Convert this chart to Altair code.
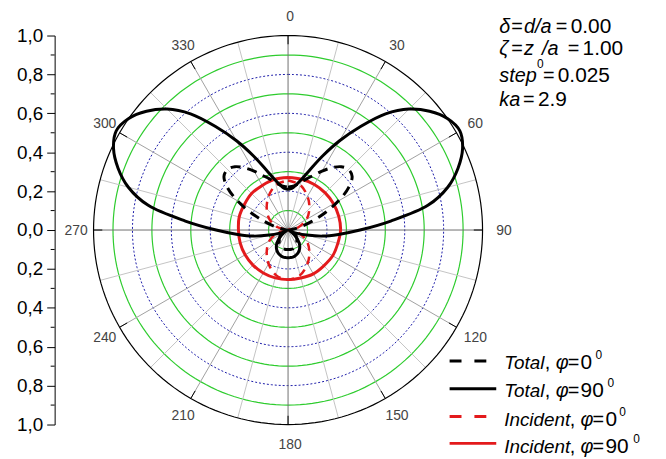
import altair as alt
import pandas as pd

# ---------------- data ----------------
# angle in degrees, clockwise from the top (0 = up, 90 = right)
ang5 = list(range(0, 361, 5))
total_90 = [0.21, 0.215, 0.235, 0.27, 0.33, 0.42, 0.53, 0.65, 0.78, 0.88,
            0.95, 1.00, 1.02, 0.99, 0.93, 0.85, 0.73, 0.53, 0.37, 0.26,
            0.18, 0.10, 0.05, 0.02, 0.01, 0.03, 0.05, 0.07, 0.09, 0.105,
            0.117, 0.126, 0.133, 0.138, 0.141, 0.142, 0.143, 0.142, 0.141, 0.138,
            0.133, 0.126, 0.117, 0.105, 0.09, 0.07, 0.05, 0.03, 0.01, 0.02,
            0.05, 0.10, 0.18, 0.26, 0.37, 0.53, 0.73, 0.85, 0.93, 0.99,
            1.02, 1.00, 0.95, 0.88, 0.78, 0.65, 0.53, 0.42, 0.33, 0.27,
            0.235, 0.215, 0.21]
total_0 = [0.22, 0.225, 0.235, 0.255, 0.28, 0.31, 0.35, 0.39, 0.425, 0.44,
           0.43, 0.38, 0.30, 0.21, 0.13, 0.07, 0.03, 0.01, 0.0, 0.01,
           0.015, 0.02, 0.03, 0.035, 0.04, 0.05, 0.055, 0.065, 0.07, 0.08,
           0.085, 0.09, 0.095, 0.10, 0.10, 0.10, 0.10, 0.10, 0.10, 0.10,
           0.095, 0.09, 0.085, 0.08, 0.07, 0.065, 0.055, 0.05, 0.04, 0.035,
           0.03, 0.02, 0.015, 0.01, 0.0, 0.01, 0.03, 0.07, 0.13, 0.21,
           0.30, 0.38, 0.43, 0.44, 0.425, 0.39, 0.35, 0.31, 0.28, 0.255,
           0.235, 0.225, 0.22]
ang15 = list(range(0, 361, 15))
incident_90 = [0.27, 0.27, 0.27, 0.27, 0.27, 0.27, 0.27, 0.265, 0.265, 0.26,
               0.26, 0.255, 0.255, 0.255, 0.255, 0.255, 0.255, 0.255, 0.255, 0.26,
               0.26, 0.265, 0.265, 0.27, 0.27]
incident_0 = [0.255, 0.24, 0.20, 0.155, 0.11, 0.055, 0.0, 0.055, 0.11, 0.155,
              0.20, 0.24, 0.255, 0.24, 0.20, 0.155, 0.11, 0.055, 0.0, 0.055,
              0.11, 0.155, 0.20, 0.24, 0.255]

grid_radii = [0.1, 0.2, 0.3, 0.4, 0.5, 0.6, 0.7, 0.8, 0.9, 1.0]
spoke_angles = list(range(0, 360, 15))
label_angles = list(range(0, 360, 30))
y_major = [-1.0, -0.8, -0.6, -0.4, -0.2, 0.0, 0.2, 0.4, 0.6, 0.8, 1.0]
y_minor = [-0.9, -0.7, -0.5, -0.3, -0.1, 0.1, 0.3, 0.5, 0.7, 0.9]

# ---------------- tables ----------------
def curve(angles, radii, name):
    return pd.DataFrame({"theta": angles, "r": radii,
                         "i": list(range(len(angles))), "series": name})

curves = pd.concat([curve(ang5, total_90, "t90"), curve(ang5, total_0, "t0"),
                    curve(ang15, incident_90, "i90"), curve(ang15, incident_0, "i0")])

circ_rows = []
for rr in grid_radii:
    for k, a in enumerate(range(0, 362, 2)):
        circ_rows.append({"r": rr, "theta": a, "i": k,
                          "kind": "outer" if rr == 1.0 else ("even" if round(rr * 10) % 2 == 0 else "odd")})
circles = pd.DataFrame(circ_rows)
spokes = pd.DataFrame({"theta": spoke_angles})
labels = pd.DataFrame({"theta": label_angles, "txt": [str(a) for a in label_angles]})
minor = pd.DataFrame({"v": y_minor})
dummy = pd.DataFrame({"k": [0]})

XS = alt.Scale(domain=[-1.2, 1.902], nice=False, zero=False)
YS = alt.Scale(domain=[-1, 1], nice=False, zero=False)
YAX = alt.Axis(values=y_major, title=None, grid=False,
               labelExpr="replace(format(abs(datum.value), '.1f'), '.', ',')",
               tickSize=8, tickColor="black", domainColor="black", labelColor="black",
               labelFont="Liberation Sans", labelFontSize=19, labelPadding=4,
               labelFlush=False, labelBound=False, labelOverlap=False,
               domainWidth=1, tickWidth=1)

def X(f):
    return alt.X(f, type="quantitative", scale=XS, axis=None)

def Y(f):
    return alt.Y(f, type="quantitative", scale=YS, axis=YAX)

XY = {"px": "datum.r*sin(datum.theta*PI/180)", "py": "datum.r*cos(datum.theta*PI/180)"}

# grid circles
circ_base = alt.Chart(circles).transform_calculate(**XY)
def circ_layer(kind, **mk):
    return circ_base.transform_filter(f"datum.kind == '{kind}'").mark_line(**mk).encode(
        x=X("px"), y=Y("py"), order="i:Q", detail="r:N")

g_odd = circ_layer("odd", color="#2ecc2e", strokeWidth=1.2)
g_even = circ_layer("even", color="#1c1ca8", strokeWidth=1, strokeDash=[2, 2])
g_outer = circ_layer("outer", color="black", strokeWidth=1.2)

# spokes
sp_base = alt.Chart(spokes).transform_calculate(
    x0="0", y0="0", x1="sin(datum.theta*PI/180)", y1="cos(datum.theta*PI/180)",
    xt="0.955*sin(datum.theta*PI/180)", yt="0.955*cos(datum.theta*PI/180)")
sp_light = sp_base.transform_filter("datum.theta % 30 != 0").mark_rule(
    color="#c4c4c4", strokeWidth=1).encode(x=X("x0"), y=Y("y0"), x2="x1:Q", y2="y1:Q")
sp_mid = sp_base.transform_filter("datum.theta % 30 == 0 && datum.theta % 90 != 0").mark_rule(
    color="#a0a0a0", strokeWidth=1).encode(x=X("x0"), y=Y("y0"), x2="x1:Q", y2="y1:Q")
sp_dark = sp_base.transform_filter("datum.theta % 90 == 0").mark_rule(
    color="#707070", strokeWidth=1).encode(x=X("x0"), y=Y("y0"), x2="x1:Q", y2="y1:Q")
sp_tick = sp_base.transform_filter("datum.theta % 30 == 0").mark_rule(
    color="black", strokeWidth=1).encode(x=X("xt"), y=Y("yt"), x2="x1:Q", y2="y1:Q")

# angle labels
lab = alt.Chart(labels).transform_calculate(
    px="1.1*sin(datum.theta*PI/180)", py="1.1*cos(datum.theta*PI/180)"
).mark_text(font="Liberation Sans", fontSize=14, color="#444444", dx=2, dy=1,
            align="center", baseline="middle").encode(x=X("px"), y=Y("py"), text="txt:N")

# minor ticks on the left axis
mt = alt.Chart(minor).mark_rule(color="black", strokeWidth=1).encode(
    y=Y("v"), x=alt.value(-4), x2=alt.value(0))

# curves
cb = alt.Chart(curves).transform_calculate(**XY)
def cl(name, **mk):
    return cb.transform_filter(f"datum.series == '{name}'").mark_line(
        interpolate="catmull-rom", **mk).encode(x=X("px"), y=Y("py"), order="i:Q")

c_i90 = cl("i90", color="#e31a1c", strokeWidth=3)
c_i0 = cl("i0", color="#e31a1c", strokeWidth=2.5, strokeDash=[8, 6])
c_t0 = cl("t0", color="black", strokeWidth=3, strokeDash=[10, 7])
c_t90 = cl("t90", color="black", strokeWidth=3)

# text helpers (pixel positions relative to the plot area)
def seg(s, x, y, size=20, italic=False, color="black"):
    return alt.Chart(dummy).mark_text(
        text=s, align="left", baseline="alphabetic", fontSize=size,
        fontStyle="italic" if italic else "normal", font="Liberation Sans",
        color=color).encode(x=alt.value(x), y=alt.value(y))

def hline(x1, x2, y, color, dash=None):
    mk = dict(color=color, strokeWidth=3)
    if dash:
        mk["strokeDash"] = dash
    return alt.Chart(dummy).mark_rule(**mk).encode(
        x=alt.value(x1), x2=alt.value(x2), y=alt.value(y))

notes = [
    seg("δ", 448, -3, italic=True), seg("=", 460, -3), seg("d/a", 473, -3, italic=True),
    seg("=", 505, -3), seg("0.00", 520, -3, size=21),
    seg("ζ", 448, 20, italic=True), seg("=", 460, 20), seg("z", 473, 20, italic=True),
    seg("0", 486, 33, size=12), seg("/a", 491, 20, italic=True),
    seg("=", 517, 20), seg("1.00", 532, 20, size=21),
    seg("step", 448, 47, italic=True), seg("=", 492, 47), seg("0.025", 507, 47, size=21),
    seg("ka", 448, 71, italic=True), seg("=", 472, 71), seg("2.9", 487, 71, size=21),
]

legend = []
rows = [("Total", "0", 328, 336, "black", [12, 13], 494, 505, 517, 530, 545),
        ("Total", "90", 356, 364, "black", None, 494, 505, 517, 530, 557),
        ("Incident", "0", 384, 393, "#e31a1c", [12, 13], 519, 530, 542, 555, 569),
        ("Incident", "90", 411, 421, "#e31a1c", None, 519, 530, 542, 555, 583)]
for word, deg, ly, tb, col, dash, xc, xphi, xeq, xnum, xsup in rows:
    legend.append(hline(398, 445 if dash is None else 435, ly, col, dash))
    legend += [seg(word, 453, tb, size=19, italic=True), seg(",", xc, tb),
               seg("φ", xphi, tb, italic=True), seg("=", xeq, tb),
               seg(deg, xnum, tb, size=21), seg("0", xsup, tb - 10, size=12)]

chart = alt.layer(
    g_odd, g_even, sp_light, sp_mid, sp_dark, g_outer, sp_tick, lab, mt,
    c_i90, c_i0, c_t0, c_t90, *notes, *legend
).properties(
    width=608, height=392,
    autosize=alt.AutoSizeParams(type="none"),
    padding={"left": 47, "top": 26, "right": 0, "bottom": 33},
).configure_view(stroke=None)

chart.save("out.html", embed_options={"renderer": "svg", "actions": False})
